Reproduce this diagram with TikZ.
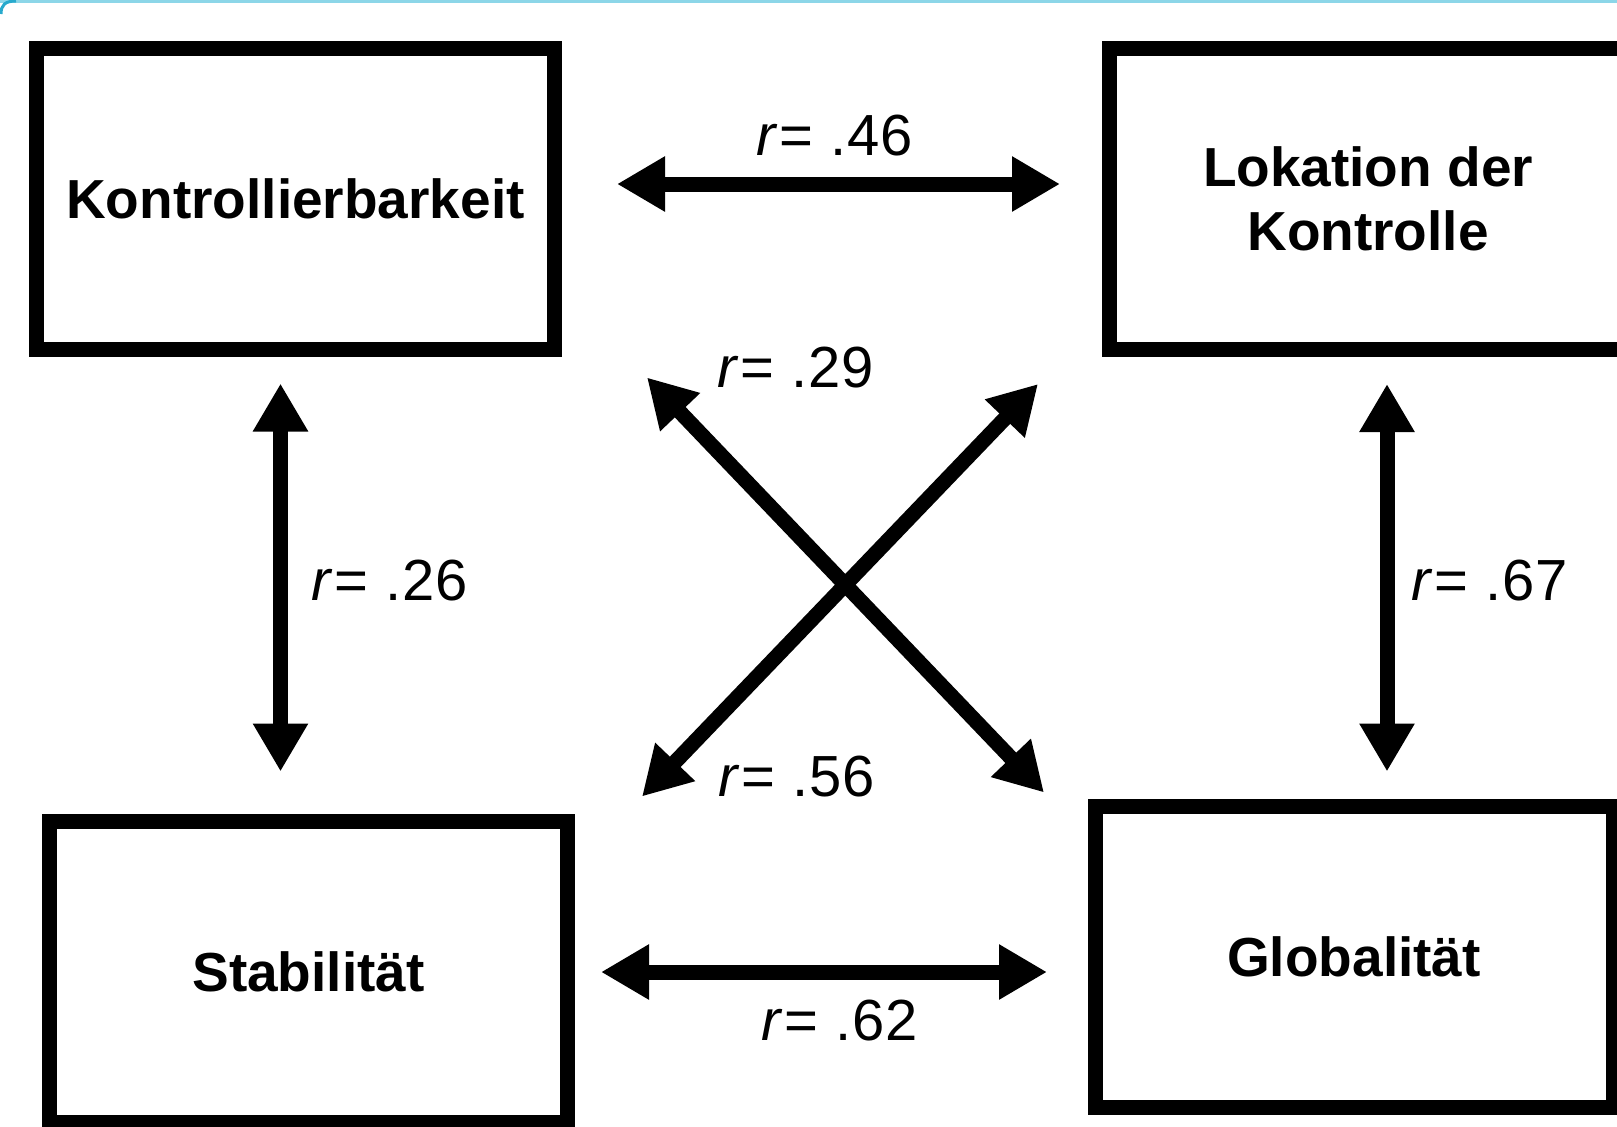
\documentclass[tikz,border=0pt]{standalone}
\usepackage{fontspec}
\setmainfont{Liberation Sans}
\usepackage{tikz}
\usetikzlibrary{arrows.meta}

\definecolor{winedge}{RGB}{140,214,232}
\definecolor{wincorner}{RGB}{40,170,205}

\begin{document}
\begin{tikzpicture}[
	x=0.5pt, y=-0.5pt,
	>={Triangle[length=24pt,width=26pt]},
	factor/.style={
		draw,
		line width=7.5pt,
		minimum width=259pt,
		minimum height=150.5pt,
		outer sep=3.75pt,
		align=center,
		font=\fontsize{27.5}{32}\selectfont\bfseries
	},
	corr/.style={<->, line width=7.5pt},
	rval/.style={font=\fontsize{29}{32}\selectfont\addfontfeatures{LetterSpace=2}, inner sep=0pt}
]
	\useasboundingbox (0,0) rectangle (1617,1126);

	\draw[winedge, line width=1.5pt] (0,1) -- (1617,1);
	\draw[wincorner, line width=1.5pt] (1,14) .. controls (1,5) and (5,1) .. (16,1);

	\node[factor] (kontr) at (295.5,199) {Kontrollierbarkeit};
	\node[factor] (lokat) at (1368,199) {Lokation der\\Kontrolle};
	\node[factor] (stab) at (308.5,972) {Stabilität};
	\node[factor] (glob) at (1354,956.5) {Globalität};

	\draw[corr] ([shift={(55,-15)}]kontr.east) -- ([shift={(-41.5,-15)}]lokat.west);
	\draw[corr] ([shift={(26,0)}]stab.east) -- ([shift={(-40.5,15.5)}]glob.west);
	\draw[corr] ([shift={(-15,26.5)}]kontr.south) -- ([shift={(-28,-42.5)}]stab.north);
	\draw[corr] ([shift={(19,27)}]lokat.south) -- ([shift={(33,-27)}]glob.north);
	\draw[corr] ([shift={(85,20.5)}]kontr.south east) -- ([shift={(-43.5,-6)}]glob.north west);
	\draw[corr] ([shift={(-63.5,27)}]lokat.south west) -- ([shift={(67,-17.5)}]stab.north east);

	\node[rval] (r46) at (835,136) {\textit{r}= .46};
	\node[rval] (r62) at (840,1021) {\textit{r}= .62};
	\node[rval] (r26) at (390,581) {\textit{r}= .26};
	\node[rval] (r67) at (1490,581) {\textit{r}= .67};
	\node[rval] (r29) at (796,368) {\textit{r}= .29};
	\node[rval] (r56) at (797,777) {\textit{r}= .56};
\end{tikzpicture}
\end{document}
